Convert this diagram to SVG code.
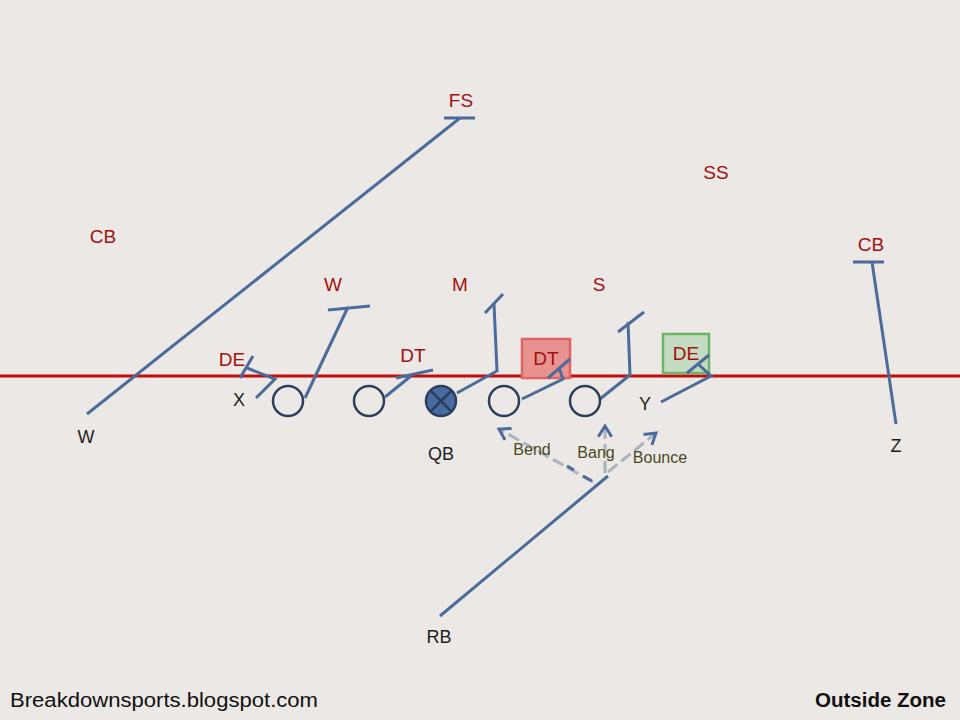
<svg xmlns="http://www.w3.org/2000/svg" width="960" height="720" viewBox="0 0 960 720">
<defs>
<style>
.rt{stroke:#4b6b9b;stroke-width:3;fill:none;stroke-linecap:butt;stroke-linejoin:miter}
.pl{fill:none;stroke:#2c3f5e;stroke-width:2.5}
.d{font-family:"Liberation Sans",Arial,sans-serif;font-size:19px;fill:#a3100f;text-anchor:middle}
.o{font-family:"Liberation Sans",Arial,sans-serif;font-size:18px;fill:#1e1e1e;text-anchor:middle}
.c{font-family:"Liberation Sans",Arial,sans-serif;font-size:16px;fill:#4a4a1e;text-anchor:middle}
.dash{stroke:#aab3c0;stroke-width:3;fill:none;stroke-dasharray:12,5}
.bd{stroke:#4b6b9b;stroke-width:3;fill:none}
</style>
<marker id="ah" viewBox="0 0 12 12" refX="10" refY="6" markerWidth="16" markerHeight="16" markerUnits="userSpaceOnUse" orient="auto">
<path d="M2,1 L10,6 L2,11" fill="none" stroke="#4b6b9b" stroke-width="2.2"/>
</marker>
</defs>
<rect width="960" height="720" fill="#ebe8e5"/>
<line x1="0" y1="376" x2="960" y2="376" stroke="#c40a0a" stroke-width="3"/>

<g id="box-dt"><rect x="522" y="339" width="48" height="39" fill="#e99391" stroke="#e06464" stroke-width="2.5"/><text class="d" x="546" y="365">DT</text></g>
<g id="box-de"><rect x="663" y="334" width="46" height="39" fill="#c3dbc0" stroke="#6cb46a" stroke-width="2.5"/><text class="d" x="686" y="360">DE</text></g>

<g id="connectors">
<path class="rt" d="M87,414 L460,118"/><path class="rt" d="M444,118 L475,118"/>
<path class="rt" d="M256,398 L275,379 L247,368"/><path class="rt" d="M240,378 L253,356"/>
<path class="rt" d="M305,398 L348,307"/><path class="rt" d="M328,310 L370,306"/>
<path class="rt" d="M385,397 L411,376"/><path class="rt" d="M396,378 L433,370"/>
<path class="rt" d="M457,393 L497,371 L494,304"/><path class="rt" d="M485,313 L503,294"/>
<path class="rt" d="M522,399 L563,379 L559,368"/><path class="rt" d="M548,378 L570,359"/>
<path class="rt" d="M600,399 L630,375 L628,322"/><path class="rt" d="M618,332 L644,312"/>
<path class="rt" d="M661,402 L711,376 L698,364"/><path class="rt" d="M687,373 L709,355"/>
<path class="rt" d="M872,262 L896,424"/><path class="rt" d="M853,262 L884,262"/>
<path class="rt" d="M440,616 L608,476"/>
<path class="dash" d="M593,482 L499,429" marker-end="url(#ah)"/>
<path class="bd" d="M567,466 L574,470 M583,476 L592,481"/>
<path class="dash" d="M605,473 L605,426" marker-end="url(#ah)"/>
<path class="dash" d="M608,472 L656,433" marker-end="url(#ah)"/>
</g>

<g id="players">
<circle class="pl" cx="288" cy="401" r="15"/>
<circle class="pl" cx="369" cy="401" r="15"/>
<g id="qb"><circle cx="441" cy="401" r="15" fill="#4a6aa2" stroke="#2c3f5e" stroke-width="2.5"/><path d="M430,390 L452,412 M452,390 L430,412" stroke="#2c3f5e" stroke-width="2.5"/></g>
<circle class="pl" cx="504" cy="401" r="15"/>
<circle class="pl" cx="585" cy="401" r="15"/>
</g>

<g id="labels">
<text class="d" x="461" y="107">FS</text>
<text class="d" x="716" y="179">SS</text>
<text class="d" x="103" y="243">CB</text>
<text class="d" x="871" y="251">CB</text>
<text class="d" x="333" y="291">W</text>
<text class="d" x="460" y="291">M</text>
<text class="d" x="599" y="291">S</text>
<text class="d" x="232" y="366">DE</text>
<text class="d" x="413" y="362">DT</text>
<text class="o" x="239" y="406">X</text>
<text class="o" x="86" y="443">W</text>
<text class="o" x="441" y="460">QB</text>
<text class="o" x="645" y="410">Y</text>
<text class="o" x="896" y="452">Z</text>
<text class="o" x="439" y="643">RB</text>
<text class="c" x="532" y="455">Bend</text>
<text class="c" x="596" y="458">Bang</text>
<text class="c" x="660" y="463">Bounce</text>
<text x="10" y="707" font-family="Liberation Sans,Arial,sans-serif" font-size="20" fill="#111" textLength="308" lengthAdjust="spacingAndGlyphs">Breakdownsports.blogspot.com</text>
<text x="946" y="707" font-family="Liberation Sans,Arial,sans-serif" font-size="20" font-weight="bold" fill="#111" text-anchor="end" textLength="131" lengthAdjust="spacingAndGlyphs">Outside Zone</text>
</g>
</svg>
